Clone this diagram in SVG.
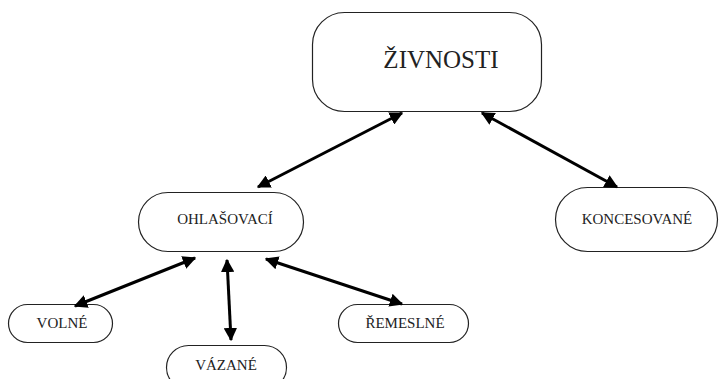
<svg xmlns="http://www.w3.org/2000/svg" width="721" height="379" viewBox="0 0 721 379">
<style>
.node{fill:#fff;stroke:#222;stroke-width:1.2}
.t{font-family:"Liberation Serif","DejaVu Serif",serif;fill:#222;text-anchor:middle}
.c{stroke:#000;stroke-width:3;fill:none;marker-start:url(#a);marker-end:url(#a)}
</style>
<defs>
<marker id="a" viewBox="0 0 10 10" refX="9" refY="5" markerWidth="4.5" markerHeight="4.5" orient="auto-start-reverse" markerUnits="strokeWidth">
<path d="M0,0 L10,5 L0,10 z" fill="#000"/>
</marker>
</defs>
<rect width="721" height="379" fill="#fff"/>
<g id="zivnosti"><rect class="node" x="312.5" y="12.5" width="229" height="99" rx="32"/><text class="t" x="441" y="68" font-size="25">ŽIVNOSTI</text></g>
<g id="ohlasovaci"><rect class="node" x="138.5" y="192.5" width="165" height="59" rx="29.5"/><text class="t" x="225" y="224" font-size="15">OHLAŠOVACÍ</text></g>
<g id="koncesovane"><rect class="node" x="555.5" y="187.5" width="162" height="64" rx="32"/><text class="t" x="637" y="224" font-size="15">KONCESOVANÉ</text></g>
<g id="volne"><rect class="node" x="8.5" y="304.5" width="104" height="38" rx="19"/><text class="t" x="62" y="328" font-size="15">VOLNÉ</text></g>
<g id="vazane"><rect class="node" x="166.5" y="345.5" width="120" height="44" rx="22"/><text class="t" x="226" y="370" font-size="15">VÁZANÉ</text></g>
<g id="remeslne"><rect class="node" x="338.5" y="304.5" width="130" height="38" rx="19"/><text class="t" x="405" y="328" font-size="15">ŘEMESLNÉ</text></g>
<g id="connectors">
<line class="c" x1="402" y1="113" x2="258" y2="187"/>
<line class="c" x1="482" y1="113" x2="617" y2="187"/>
<line class="c" x1="195" y1="258" x2="75" y2="306"/>
<line class="c" x1="227" y1="260" x2="231" y2="340"/>
<line class="c" x1="266" y1="259" x2="402" y2="304"/>
</g>
</svg>
